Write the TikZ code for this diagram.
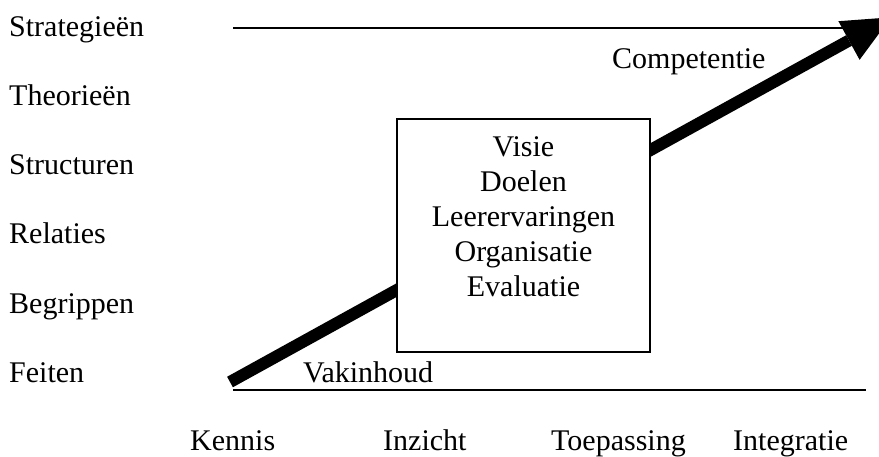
\documentclass[tikz,border=0pt]{standalone}
\usepackage{fontspec}
\setmainfont{Liberation Serif}
\begin{document}
\begin{tikzpicture}[x=1pt,y=-1pt,
  lbl/.style={anchor=base west, inner sep=0pt, font=\fontsize{30}{35}\selectfont},
  thinline/.style={line width=1.5pt},
  framebox/.style={draw, fill=white, line width=1.5pt, inner sep=0pt}]
\useasboundingbox (0,0) rectangle (879,456);
\clip (0,0) rectangle (879,456);
% left labels
\node[lbl] (strat) at (9,36) {Strategieën};
\node[lbl] (theo) at (9,105) {Theorieën};
\node[lbl] (struc) at (9,174) {Structuren};
\node[lbl] (rel) at (9,243) {Relaties};
\node[lbl] (begr) at (9,313) {Begrippen};
\node[lbl] (feit) at (9,382) {Feiten};
% bottom labels
\node[lbl] (kennis) at (190,450) {Kennis};
\node[lbl] (inzicht) at (383,450) {Inzicht};
\node[lbl] (toep) at (551,450) {Toepassing};
\node[lbl] (integ) at (733,450) {Integratie};
% lines
\coordinate (tl) at (233,28);
\coordinate (tr) at (860,28);
\coordinate (bl) at (233,390);
\coordinate (br) at (866,390);
\draw[thinline] (tl) -- (tr);
\draw[thinline] (bl) -- (br);
% thick arrow
\coordinate (tail) at (230,382);
\coordinate (hb) at (849,40.5);
\coordinate (hl) at (838.4,21.2);
\coordinate (hr) at (859.6,59.8);
\coordinate (tip) at (891,17.3);
\draw[line width=12pt] (tail) -- (hb);
\fill (hl) -- (tip) -- (hr) -- cycle;
% box
\node[framebox, minimum width=253pt, minimum height=233pt] (box) at (523.5,235.5) {};
\node[anchor=north, inner sep=0pt, align=center, font=\fontsize{30}{35}\selectfont] (boxtxt) at (523.5,136.2)
  {Visie\\Doelen\\Leerervaringen\\Organisatie\\Evaluatie};
% arrow labels
\node[lbl] (comp) at (612,68) {Competentie};
\node[lbl] (vak) at (303,382) {Vakinhoud};
\end{tikzpicture}
\end{document}
